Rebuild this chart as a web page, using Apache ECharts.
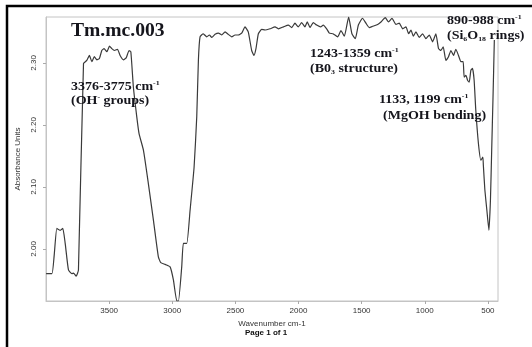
<!DOCTYPE html>
<html>
<head>
<meta charset="utf-8">
<style>
  html, body { margin: 0; padding: 0; background: #fff; }
  #chart { width: 532px; height: 347px; }
</style>
<script src="https://cdn.jsdelivr.net/npm/echarts@6/dist/echarts.min.js"></script>
</head>
<body>
<div id="chart"></div>
<script>
// FTIR absorbance spectrum of sample Tm.mc.003
const wavenumber = [
  3999, 3953, 3935, 3914, 3888, 3867, 3848, 3822, 3795, 3782, 3761, 3743,
  3703, 3677, 3656, 3637, 3617, 3597, 3577, 3558, 3540, 3518, 3497, 3479,
  3458, 3434, 3413, 3387, 3365, 3342, 3328, 3308, 3281, 3263, 3228, 3189,
  3149, 3110, 3091, 3057, 3017, 2991, 2964, 2951, 2925, 2912, 2885, 2859,
  2827, 2806, 2793, 2780, 2754, 2727, 2706, 2687, 2661, 2634, 2608, 2582,
  2556, 2529, 2503, 2477, 2450, 2424, 2398, 2371, 2353, 2337, 2318, 2292,
  2265, 2226, 2186, 2160, 2120, 2081, 2054, 2028, 2002, 1975, 1949, 1931,
  1909, 1883, 1856, 1825, 1804, 1777, 1756, 1727, 1690, 1664, 1637, 1603,
  1577, 1550, 1526, 1493, 1466, 1440, 1413, 1373, 1347, 1313, 1287, 1260,
  1228, 1202, 1175, 1149, 1128, 1109, 1091, 1070, 1044, 1017, 991, 964,
  938, 912, 891, 872, 854, 833, 812, 793, 772, 754, 733, 714,
  696, 688, 674, 661, 648, 635, 622, 609, 596, 575, 556, 540,
  536, 524, 508, 492, 480, 470, 460, 449
];
const absorbance = [
  1.960, 1.960, 1.990, 2.033, 2.030, 2.033, 2.009, 1.966, 1.960, 1.961, 1.956, 1.966,
  2.299, 2.304, 2.312, 2.302, 2.310, 2.305, 2.307, 2.320, 2.323, 2.318, 2.327, 2.323,
  2.320, 2.322, 2.312, 2.305, 2.308, 2.320, 2.318, 2.261, 2.213, 2.186, 2.159, 2.105,
  2.046, 1.987, 1.978, 1.975, 1.971, 1.950, 1.916, 1.916, 1.971, 2.009, 2.009, 2.062,
  2.132, 2.213, 2.304, 2.342, 2.347, 2.342, 2.345, 2.341, 2.346, 2.348, 2.345, 2.350,
  2.346, 2.342, 2.345, 2.345, 2.348, 2.358, 2.350, 2.320, 2.312, 2.323, 2.347, 2.354,
  2.353, 2.355, 2.358, 2.355, 2.358, 2.361, 2.357, 2.364, 2.358, 2.365, 2.358, 2.366,
  2.357, 2.365, 2.361, 2.358, 2.361, 2.355, 2.348, 2.347, 2.342, 2.352, 2.343, 2.374,
  2.347, 2.339, 2.361, 2.372, 2.364, 2.357, 2.359, 2.362, 2.366, 2.373, 2.366, 2.372,
  2.362, 2.364, 2.355, 2.358, 2.347, 2.353, 2.343, 2.350, 2.341, 2.347, 2.339, 2.345,
  2.334, 2.347, 2.323, 2.320, 2.326, 2.304, 2.310, 2.320, 2.312, 2.322, 2.312, 2.302,
  2.302, 2.277, 2.280, 2.272, 2.269, 2.288, 2.291, 2.272, 2.224, 2.170, 2.143, 2.148,
  2.135, 2.095, 2.062, 2.030, 2.078, 2.159, 2.240, 2.337
];
const xTicks = [3500, 3000, 2500, 2000, 1500, 1000, 500];
const yTicks = [2.00, 2.10, 2.20, 2.30];

const chart = echarts.init(document.getElementById('chart'), null, { renderer: 'canvas' });

const serif = '"Liberation Serif", "Times New Roman", serif';
const sans = '"Liberation Sans", Arial, sans-serif';
const ink = '#15151c';

// rich-text styles for band labels (superscript / subscript pieces)
const bandRich = {
  sup: { fontSize: 7, fontWeight: 'bold', fontFamily: serif, fill: ink, verticalAlign: 'top', lineHeight: 14 },
  sub: { fontSize: 7, fontWeight: 'bold', fontFamily: serif, fill: ink, verticalAlign: 'bottom', lineHeight: 14 }
};
function bandText(left, top, text) {
  return {
    type: 'text', left: left, top: top, z: 10, scaleX: 1.12,
    style: {
      text: text, fill: ink, fontFamily: serif, fontWeight: 'bold', fontSize: 12.5,
      lineHeight: 14, rich: bandRich
    }
  };
}

chart.setOption({
  animation: false,
  backgroundColor: '#fff',
  grid: {
    left: 46, right: 34, top: 17, bottom: 46,
    show: true, borderColor: '#c4c4c4', borderWidth: 1
  },
  xAxis: {
    type: 'value', inverse: true, min: 420, max: 4000,
    name: 'Wavenumber cm-1', nameLocation: 'middle', nameGap: 18,
    nameTextStyle: { fontFamily: sans, fontSize: 8, color: '#333' },
    axisLine: { show: true, lineStyle: { color: '#c4c4c4' } },
    axisTick: { show: true, length: 3, customValues: xTicks, lineStyle: { color: '#aaa' } },
    axisLabel: {
      customValues: xTicks, fontFamily: sans, fontSize: 8, color: '#333', margin: 6,
      formatter: v => String(v)
    },
    splitLine: { show: false }
  },
  yAxis: {
    type: 'value', min: 1.916, max: 2.374,
    name: 'Absorbance Units', nameLocation: 'middle', nameGap: 22, nameRotate: 90,
    nameTextStyle: { fontFamily: sans, fontSize: 8, color: '#333' },
    axisLine: { show: true, lineStyle: { color: '#c4c4c4' } },
    axisTick: { show: true, length: 3, customValues: yTicks, lineStyle: { color: '#aaa' } },
    axisLabel: {
      customValues: yTicks, rotate: 90, fontFamily: sans, fontSize: 8, color: '#333', margin: 8,
      formatter: v => v.toFixed(2)
    },
    splitLine: { show: false }
  },
  series: [{
    type: 'line',
    data: wavenumber.map((w, i) => [w, absorbance[i]]),
    showSymbol: false,
    smooth: 0.15,
    lineStyle: { color: '#3a3a3a', width: 1.2 }
  }],
  graphic: [
    // page frame
    { type: 'rect', shape: { x: 7, y: 6, width: 700, height: 500 },
      style: { fill: null, stroke: '#000', lineWidth: 2.5 }, z: 20 },
    { type: 'text', left: 71, top: 22, z: 10, scaleX: 1.03,
      style: { text: 'Tm.mc.003', fill: ink, fontFamily: serif, fontWeight: 'bold', fontSize: 19 } },
    bandText(71, 80, '3376-3775 cm{sup|-1}'),
    bandText(71, 94, '(OH{sup|-} groups)'),
    bandText(310, 47, '1243-1359 cm{sup|-1}'),
    bandText(310, 62, '(B0{sub|3} structure)'),
    bandText(447, 14, '890-988 cm{sup|-1}'),
    bandText(447, 29, '(Si{sub|6}O{sub|18} rings)'),
    bandText(379, 93, '1133, 1199 cm{sup|-1}'),
    bandText(383, 109, '(MgOH bending)'),
    { type: 'text', left: 'center', top: 329, z: 10,
      style: { text: 'Page 1 of 1', fill: '#111', fontFamily: sans, fontWeight: 'bold', fontSize: 8 } }
  ]
});
</script>
</body>
</html>
